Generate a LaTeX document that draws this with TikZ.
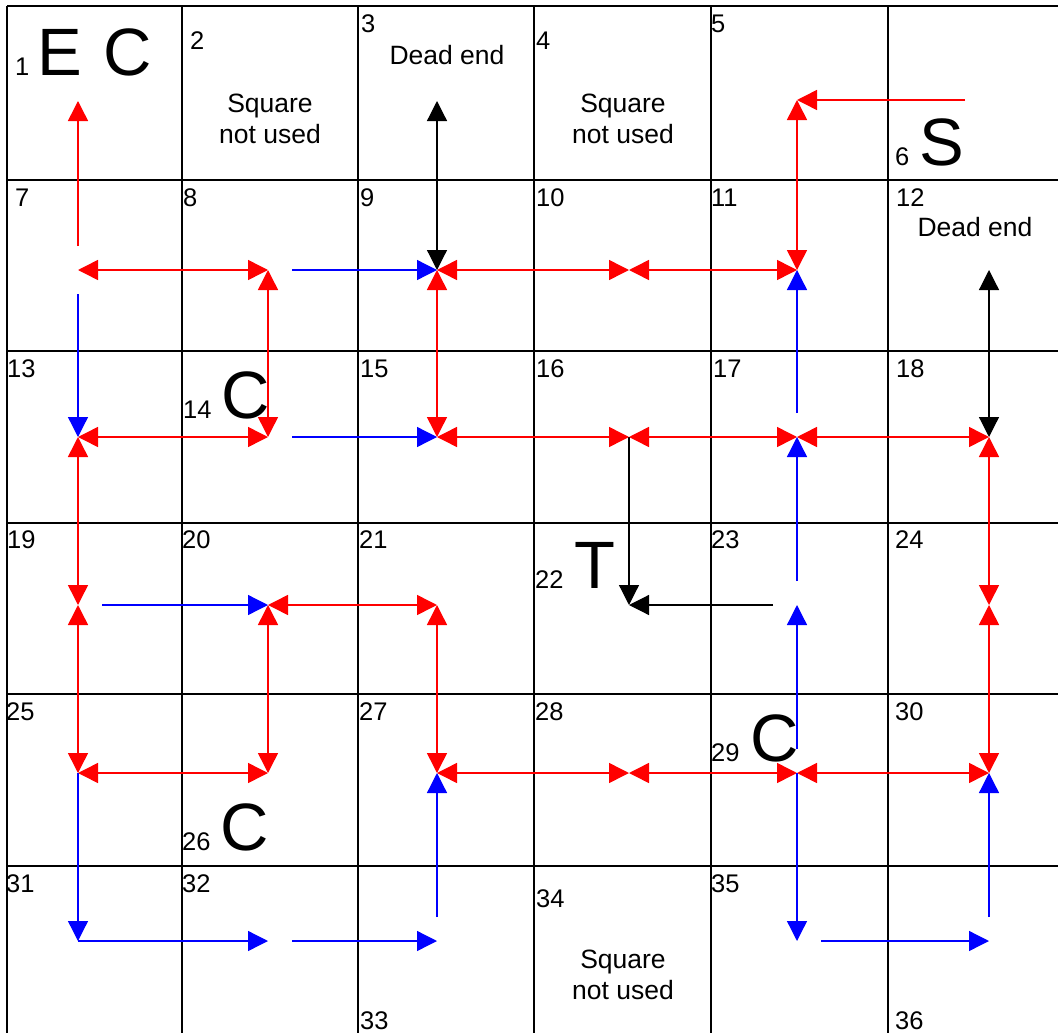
\documentclass[tikz,border=0pt]{standalone}
\usepackage{fontspec}
\setmainfont{Liberation Sans}
\usepackage{tikz}
\usetikzlibrary{arrows.meta}
\usepackage{xcolor}
\definecolor{pathred}{RGB}{255,0,0}
\definecolor{pathblue}{RGB}{0,0,255}

\tikzset{
  gridline/.style={line width=2pt, black},
  redway/.style={line width=1.5pt, pathred},
  blueway/.style={line width=1.3pt, pathblue},
  deadway/.style={line width=1.2pt, black},
  fromgap/.style={shorten <=24pt},
  num/.style={font=\fontsize{25.5}{30}\selectfont, anchor=base west, inner sep=0pt},
  big/.style={font=\fontsize{67}{80}\selectfont, anchor=base west, inner sep=0pt},
  note/.style={font=\fontsize{26.5}{31}\selectfont, anchor=base, inner sep=0pt, align=center},
}

\begin{document}
\begin{tikzpicture}[x=1pt, y=-1pt, >={Triangle[length=20pt,width=20pt]}]
\useasboundingbox (0,0) rectangle (1058,1033);

% grid
\draw[gridline] (7,6) -- (1058,6);
\draw[gridline] (7,180) -- (1058,180);
\draw[gridline] (7,351) -- (1058,351);
\draw[gridline] (7,523) -- (1058,523);
\draw[gridline] (7,694) -- (1058,694);
\draw[gridline] (7,866) -- (1058,866);
\draw[gridline] (7,6) -- (7,1033);
\draw[gridline] (182,6) -- (182,1033);
\draw[gridline] (358,6) -- (358,1033);
\draw[gridline] (534,6) -- (534,1033);
\draw[gridline] (711,6) -- (711,1033);
\draw[gridline] (888,6) -- (888,1033);

% square numbers
\node[num] (n1) at (15,75) {1};
\node[num] (n2) at (190,50) {2};
\node[num] (n3) at (361,33) {3};
\node[num] (n4) at (536,50) {4};
\node[num] (n5) at (711,33) {5};
\node[num] (n6) at (895,165) {6};
\node[num] (n7) at (15,206) {7};
\node[num] (n8) at (183,206) {8};
\node[num] (n9) at (360,206) {9};
\node[num] (n10) at (536,206) {10};
\node[num] (n11) at (711,206) {11};
\node[num] (n12) at (896,206) {12};
\node[num] (n13) at (7,377) {13};
\node[num] (n14) at (183,418) {14};
\node[num] (n15) at (360,377) {15};
\node[num] (n16) at (536,377) {16};
\node[num] (n17) at (713,377) {17};
\node[num] (n18) at (896,377) {18};
\node[num] (n19) at (7,548) {19};
\node[num] (n20) at (182,548) {20};
\node[num] (n21) at (359,548) {21};
\node[num] (n22) at (535,588) {22};
\node[num] (n23) at (711,548) {23};
\node[num] (n24) at (895,548) {24};
\node[num] (n25) at (6,720) {25};
\node[num] (n26) at (182,850) {26};
\node[num] (n27) at (359,720) {27};
\node[num] (n28) at (535,720) {28};
\node[num] (n29) at (711,761) {29};
\node[num] (n30) at (895,720) {30};
\node[num] (n31) at (6,892) {31};
\node[num] (n32) at (182,892) {32};
\node[num] (n33) at (360,1029) {33};
\node[num] (n34) at (536,907) {34};
\node[num] (n35) at (711,892) {35};
\node[num] (n36) at (895,1029) {36};

% letters
\node[big] (entry) at (37,75) {E};
\node[big] (c1) at (103,75) {C};
\node[big] (start) at (919,165) {S};
\node[big] (c14) at (221,418) {C};
\node[big] (target) at (574,588) {T};
\node[big] (c26) at (220,850) {C};
\node[big] (c29) at (750,761) {C};

\node[note] (dead3) at (447,65) {Dead end};
\node[note] (dead12) at (975,236) {Dead end};
\node[note] (unused2) at (270,143) {Square\\not used};
\node[note] (unused4) at (623,143) {Square\\not used};
\node[note] (unused34) at (623,999) {Square\\not used};

% junctions
\coordinate (j1) at (78,101); \coordinate (j3) at (437,101);
\coordinate (j5) at (797,100); \coordinate (s6) at (965,100);
\coordinate (j7) at (78,270); \coordinate (j8) at (268,270); \coordinate (j9) at (437,270);
\coordinate (j10) at (629,270); \coordinate (j11) at (797,270); \coordinate (j12) at (989,270);
\coordinate (j13) at (78,437); \coordinate (j14) at (268,437); \coordinate (j15) at (437,437);
\coordinate (j16) at (629,437); \coordinate (j17) at (797,437); \coordinate (j18) at (989,437);
\coordinate (j19) at (78,605); \coordinate (j20) at (268,605); \coordinate (j21) at (437,605);
\coordinate (j22) at (629,605); \coordinate (j23) at (797,605); \coordinate (j24) at (989,605);
\coordinate (j25) at (78,773); \coordinate (j26) at (268,773); \coordinate (j27) at (437,773);
\coordinate (j28) at (629,773); \coordinate (j29) at (797,773); \coordinate (j30) at (989,773);
\coordinate (j31) at (78,941); \coordinate (j32) at (268,941); \coordinate (j33) at (437,941);
\coordinate (j35) at (797,941); \coordinate (j36) at (989,941);

% dead ends and the way to T
\draw[deadway, <->] (j3) -- (j9);
\draw[deadway, <->] (j12) -- (j18);
\draw[deadway, ->] (j16) -- (j22);
\draw[deadway, ->, fromgap] (j23) -- (j22);

% red ways
\draw[redway, ->] (s6) -- (j5);
\draw[redway, <->] (j5) -- (j11);
\draw[redway, <->] (j9) -- (j10);
\draw[redway, <->] (j10) -- (j11);
\draw[redway, <->] (j9) -- (j15);
\draw[redway, <->] (j7) -- (j8);
\draw[redway, ->, fromgap] (j7) -- (j1);
\draw[redway, <->] (j8) -- (j14);
\draw[redway, <->] (j13) -- (j14);
\draw[redway, <->] (j15) -- (j16);
\draw[redway, <->] (j16) -- (j17);
\draw[redway, <->] (j17) -- (j18);
\draw[redway, <->] (j13) -- (j19);
\draw[redway, <->] (j19) -- (j25);
\draw[redway, <->] (j20) -- (j21);
\draw[redway, <->] (j20) -- (j26);
\draw[redway, <->] (j21) -- (j27);
\draw[redway, <->] (j25) -- (j26);
\draw[redway, <->] (j27) -- (j28);
\draw[redway, <->] (j28) -- (j29);
\draw[redway, <->] (j29) -- (j30);
\draw[redway, <->] (j18) -- (j24);
\draw[redway, <->] (j24) -- (j30);

% blue ways
\draw[blueway, ->, fromgap] (j8) -- (j9);
\draw[blueway, ->, fromgap] (j7) -- (j13);
\draw[blueway, ->, fromgap] (j14) -- (j15);
\draw[blueway, ->, fromgap] (j19) -- (j20);
\draw[blueway, ->, fromgap] (j17) -- (j11);
\draw[blueway, ->, fromgap] (j23) -- (j17);
\draw[blueway, ->, fromgap] (j29) -- (j23);
\draw[blueway, ->] (j29) -- (j35);
\draw[blueway, ->, fromgap] (j35) -- (j36);
\draw[blueway, ->, fromgap] (j36) -- (j30);
\draw[blueway, ->] (j25) -- (j31);
\draw[blueway, ->] (j31) -- (j32);
\draw[blueway, ->, fromgap] (j32) -- (j33);
\draw[blueway, ->, fromgap] (j33) -- (j27);
\end{tikzpicture}
\end{document}
